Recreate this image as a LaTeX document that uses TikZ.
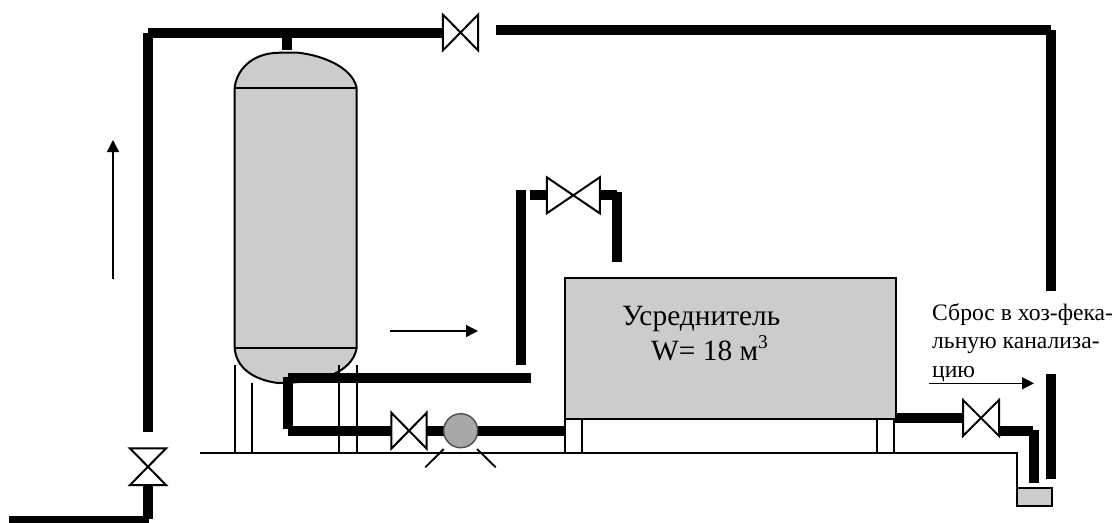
\documentclass[tikz,border=0pt]{standalone}
\usepackage{fontspec}
\setmainfont{Liberation Serif}
\usetikzlibrary{arrows.meta}
\definecolor{fillg}{gray}{0.8}
\definecolor{pumpg}{gray}{0.66}
\tikzset{
  pipe/.style={line width=10pt,line cap=butt,line join=miter},
  thinline/.style={line width=1.9pt},
  tankbody/.style={draw=black,line width=2pt,fill=fillg},
  flow/.style={line width=1.4pt,-{Triangle[length=12pt,width=12pt]}},
  valveshape/.style={draw=black,line width=2pt,fill=white,line join=miter},
  txt/.style={inner sep=0pt,anchor=base west,font=\fontsize{23.6pt}{23.6pt}\selectfont},
  bigtxt/.style={inner sep=0pt,anchor=base west,font=\fontsize{29.4pt}{29.4pt}\selectfont}
}
\newcommand{\hvalve}[4]{\draw[valveshape] (#1-#3,#2-#4) -- (#1+#3,#2+#4) -- (#1+#3,#2-#4) -- (#1-#3,#2+#4) -- cycle;}
\newcommand{\vvalve}[4]{\draw[valveshape] (#1-#4,#2-#3) -- (#1+#4,#2+#3) -- (#1-#4,#2+#3) -- (#1+#4,#2-#3) -- cycle;}
\begin{document}
\begin{tikzpicture}[x=1pt,y=-1pt]
\useasboundingbox (0,0) rectangle (1118,522);
% coordinates
\coordinate (inL) at (9,520.5);
\coordinate (inC) at (149,520.5);
\coordinate (vaB) at (148,485);
\coordinate (vaBb) at (148,519.3);
\coordinate (vaT) at (148,432);
\coordinate (tlV) at (148,32.5);
\coordinate (tlH) at (148,32.5);
\coordinate (v1L) at (443,32.5);
\coordinate (stubT) at (287,32.5);
\coordinate (stubB) at (287,50);
\coordinate (tr0) at (495.5,30);
\coordinate (tr) at (1051,30);
\coordinate (trB) at (1051,291);
\coordinate (r2T) at (1051,374);
\coordinate (r2B) at (1051,479);
% tank
\draw[tankbody] (234.7,88) .. controls (236,72) and (250,52.7) .. (280,52.7) -- (298,52.7) .. controls (320,55) and (352,66) .. (356.7,88)
  -- (356.7,348) .. controls (354,362) and (344,369) .. (334,374) .. controls (316,381) and (296,383) .. (278,383)
  .. controls (254,380) and (236,368) .. (234.7,348) -- cycle;
\draw[line width=1.2pt] (234.7,88) -- (356.7,88);
\draw[line width=1.2pt] (234.7,348) -- (356.7,348);
% tank legs
\foreach \lx/\ly in {234.7/365,251.7/382.7,339/365,356.7/365}
  \draw[thinline] (\lx,\ly) -- (\lx,453.3);
% floor
\draw[thinline,line join=miter] (200,453.3) -- (1016.7,453.3) -- (1016.7,487);
% main pipes
\draw[pipe] (vaT) -- (tlV);
\draw[pipe] (tlH) -- (v1L);
\draw[pipe] (stubT) -- (stubB);
\draw[pipe] (tr0) -- (tr);
\draw[pipe] (tr) -- (trB);
\draw[pipe] (r2T) -- (r2B);
\draw[pipe] (vaB) -- (vaBb);
\draw[pipe] (inL) -- (inC);
% lower-left loop
\coordinate (lpA) at (531,378);
\coordinate (lpB) at (287.5,378);
\draw[pipe] (lpA) -- (lpB);
\coordinate (lpB2) at (287.5,376.7);
\coordinate (lpC) at (287.5,429);
\draw[pipe] (lpB2) -- (lpC);
\coordinate (lpC2) at (287.5,430.5);
\coordinate (lpD) at (391,430.5);
\draw[pipe] (lpC2) -- (lpD);
\coordinate (pm) at (460.7,430.7);
\coordinate (pa) at (426,430.5);
\coordinate (pb) at (565,430.5);
\draw[pipe] (pa) -- (pb);
\coordinate (riseT) at (521,190);
\coordinate (riseB) at (521,365);
\draw[pipe] (riseT) -- (riseB);
% upper valve pipes
\coordinate (uvA) at (530,195);
\coordinate (uvB) at (548,195);
\coordinate (uvC) at (600,195);
\coordinate (uvD) at (616.7,195);
\coordinate (uvE) at (617,192);
\coordinate (uvF) at (617,261.7);
\draw[pipe] (uvA) -- (uvB);
\draw[pipe] (uvC) -- (uvD);
\draw[pipe] (uvE) -- (uvF);
% settling tank
\node[draw=black,line width=2pt,fill=fillg,minimum width=330.3pt,minimum height=141pt,anchor=north west,inner sep=0pt] (usr) at (564.2,277.3) {};
\foreach \lx in {565,582.3,877.3,894.3}
  \draw[thinline] (\lx,418.3) -- (\lx,453.3);
% right pipes
\coordinate (rpA) at (894.7,418);
\coordinate (rpB) at (964,418);
\draw[pipe] (rpA) -- (rpB);
\coordinate (rpC) at (998,430.5);
\coordinate (rpD) at (1033,430.5);
\draw[pipe] (rpC) -- (rpD);
\coordinate (rpE) at (1034,430);
\coordinate (rpF) at (1034,482.7);
\draw[pipe] (rpE) -- (rpF);
% outlet box
\node[draw=black,line width=2pt,fill=fillg,minimum width=35pt,minimum height=18pt,anchor=north west,inner sep=0pt] (box) at (1016.3,487.3) {};
% valves
\hvalve{460.5}{32.5}{17.7}{18}
\vvalve{148}{466.7}{18.3}{18}
\hvalve{409}{430.7}{17.7}{18}
\hvalve{573.3}{195.3}{26.5}{18}
\hvalve{981}{418}{18}{18}
% pump
\node[circle,draw=black!70,line width=1.4pt,fill=pumpg,minimum size=34pt,inner sep=0pt] (pump) at (pm) {};
\draw[thinline] (425.3,467.3) -- (443.7,449);
\draw[thinline] (477,449) -- (495.7,467.3);
% flow arrows
\draw[flow] (113,279) -- (113,140);
\draw[flow] (390,331) -- (478,331);
\draw[flow] (929.3,383.3) -- (1034,383.3);
% text
\node[bigtxt] (t1) at (622,325) {Усреднитель};
\node[bigtxt] (t2) at (651,360) {W= 18 м\raisebox{11.7pt}{\fontsize{19.5pt}{19.5pt}\selectfont 3}};
\node[txt] (t3) at (932,320.7) {Сброс в хоз-фека-};
\node[txt] (t4) at (932,348.3) {льную канализа-};
\node[txt] (t5) at (932,377.3) {цию};
\end{tikzpicture}
\end{document}
